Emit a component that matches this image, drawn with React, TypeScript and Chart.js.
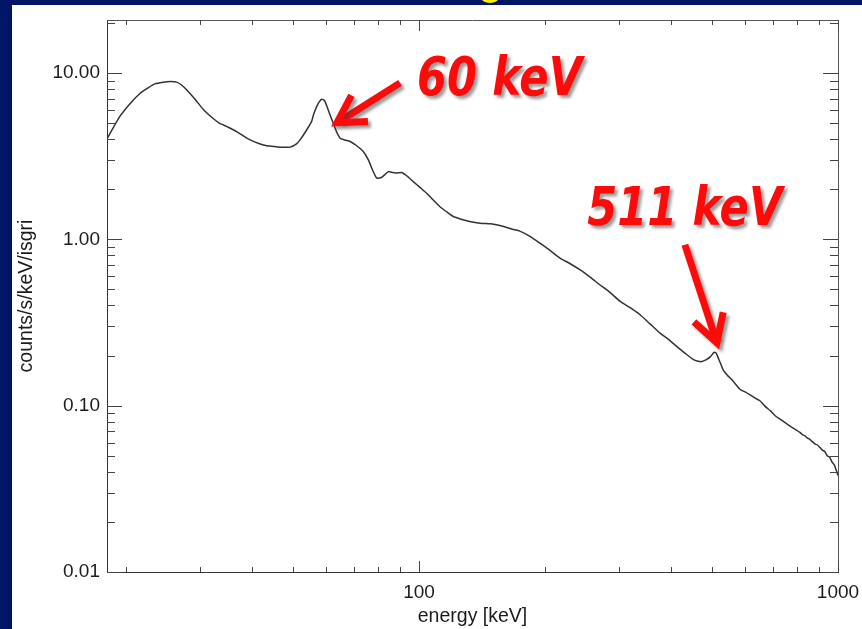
import React, { useEffect, useRef } from "react";
import { Chart, registerables } from "chart.js";

Chart.register(...registerables);

// ---- data ----
const energyKeV = [
  18, 19.3, 20.5, 21.6, 22.5, 23.4, 24.5, 25.5, 26.4, 27.2, 27.9, 29.2, 30.6, 31.9, 33.2, 35, 36.7,
  38.8, 40.5, 42.5, 44.5, 46.6, 49.2, 51, 52, 53.5, 55.4, 56, 57.2, 58.6, 59.5, 60.3, 61.3, 62.4,
  63.5, 64.8, 66.5, 68.5, 71, 73.6, 75.7, 77.5, 79.3, 81.5, 84.5, 86.5, 88.4, 91, 94, 96.9, 100.5,
  104.3, 108, 112.2, 116.5, 120.7, 126, 132, 140, 148, 154, 160, 167, 174, 184, 194, 205, 217, 229,
  242, 256, 270, 286, 302, 319, 337, 356, 376, 394, 412, 431, 452, 463, 473, 485, 496, 506, 512,
  518, 525, 532, 545, 558, 572, 584, 600, 617, 634, 651, 670, 690, 708, 727, 748, 770, 790, 811,
  822, 833, 844, 855, 867, 880, 893, 906, 918, 930, 942, 955, 967, 980, 990, 1000,
];

const countsRate = [
  4.01, 5.46, 6.6, 7.55, 8.1, 8.59, 8.8, 8.87, 8.8, 8.4, 7.9, 6.95, 6.0, 5.45, 5.03, 4.72, 4.44,
  4.05, 3.85, 3.69, 3.62, 3.58, 3.58, 3.75, 3.96, 4.4, 5.1, 5.6, 6.4, 6.95, 6.8, 6.28, 5.6, 4.99,
  4.45, 4.05, 3.95, 3.87, 3.65, 3.37, 3.0, 2.6, 2.33, 2.36, 2.55, 2.52, 2.5, 2.52, 2.38, 2.22, 2.05,
  1.89, 1.73, 1.57, 1.46, 1.37, 1.32, 1.28, 1.25, 1.24, 1.22, 1.19, 1.15, 1.12, 1.04, 0.95, 0.86,
  0.771, 0.715, 0.656, 0.592, 0.533, 0.478, 0.423, 0.388, 0.352, 0.31, 0.273, 0.25, 0.227, 0.207,
  0.189, 0.185, 0.184, 0.189, 0.197, 0.209, 0.207, 0.193, 0.178, 0.164, 0.152, 0.143, 0.133, 0.125,
  0.121, 0.116, 0.111, 0.107, 0.099, 0.093, 0.087, 0.083, 0.079, 0.075, 0.072, 0.069,
  0.067, 0.066, 0.064, 0.063, 0.061, 0.059, 0.058, 0.056, 0.054, 0.053, 0.050, 0.049, 0.046, 0.044,
  0.041, 0.038,
];

const xTickValues = [100, 1000];
const yTickValues = [0.01, 0.1, 1, 10];
const xTitle = "energy [keV]";
const yTitle = "counts/s/keV/isgri";

// annotation anchors in data units (energy, rate)
const peakLabels = ["60 keV", "511 keV"];
const labelAt = [
  [98.9, 7.38],
  [252, 1.22],
];
const arrowFrom = [
  [90.1, 8.71],
  [431, 0.927],
];
const arrowTo = [
  [63.7, 5.01],
  [514, 0.239],
];

const NAVY = "#011466";
const AXIS = "#333333";
const TEXT = "#1c1c1c";

const frameTicks = {
  id: "frameTicks",
  afterDatasetsDraw(chart: any) {
    const { ctx, chartArea: a, scales } = chart;
    const xs = scales.x;
    const ys = scales.y;
    ctx.save();
    ctx.lineWidth = 1;
    ctx.strokeStyle = "#555555";
    ctx.beginPath();
    ctx.moveTo(Math.round(a.left), Math.round(a.top) + 0.5);
    ctx.lineTo(Math.round(a.right), Math.round(a.top) + 0.5);
    ctx.moveTo(Math.round(a.right) + 0.5, Math.round(a.top));
    ctx.lineTo(Math.round(a.right) + 0.5, Math.round(a.bottom));
    ctx.stroke();
    ctx.strokeStyle = "#444444";
    ctx.beginPath();
    for (let d = -3; d <= 2; d++) {
      for (let m = 1; m <= 9; m++) {
        const v = m * Math.pow(10, d);
        if (v < ys.min * 0.999 || v > ys.max * 1.001) continue;
        const py = Math.round(ys.getPixelForValue(v)) + 0.5;
        const len = m === 1 ? 15 : 8;
        ctx.moveTo(a.left, py);
        ctx.lineTo(a.left + len, py);
        ctx.moveTo(a.right, py);
        ctx.lineTo(a.right - len, py);
      }
    }
    for (let d = 1; d <= 3; d++) {
      for (let m = 1; m <= 9; m++) {
        const v = m * Math.pow(10, d);
        if (v < xs.min * 0.999 || v > xs.max * 1.001) continue;
        const px = Math.round(xs.getPixelForValue(v)) + 0.5;
        const len = m === 1 ? 11 : 5;
        ctx.moveTo(px, a.bottom);
        ctx.lineTo(px, a.bottom - len);
        ctx.moveTo(px, a.top);
        ctx.lineTo(px, a.top + len);
      }
    }
    ctx.stroke();
    ctx.restore();
  },
};

const peakAnnotations = {
  id: "peakAnnotations",
  afterDraw(chart: any) {
    const { ctx, scales } = chart;
    const xs = scales.x;
    const ys = scales.y;
    ctx.save();
    ctx.shadowColor = "rgba(60,60,60,0.5)";
    ctx.shadowBlur = 3;
    ctx.shadowOffsetX = 3;
    ctx.shadowOffsetY = 3;
    ctx.fillStyle = "#ff0a0a";
    ctx.strokeStyle = "#ff0a0a";
    for (let i = 0; i < peakLabels.length; i++) {
      const tx = xs.getPixelForValue(labelAt[i][0]);
      const ty = ys.getPixelForValue(labelAt[i][1]);
      ctx.save();
      ctx.translate(tx, ty);
      ctx.scale(0.8, 1);
      ctx.font = "italic bold 54px 'DejaVu Sans', sans-serif";
      ctx.textBaseline = "alphabetic";
      ctx.textAlign = "left";
      ctx.fillText(peakLabels[i], 0, 0);
      ctx.restore();

      const x1 = xs.getPixelForValue(arrowFrom[i][0]);
      const y1 = ys.getPixelForValue(arrowFrom[i][1]);
      const x2 = xs.getPixelForValue(arrowTo[i][0]);
      const y2 = ys.getPixelForValue(arrowTo[i][1]);
      const ang = Math.atan2(y2 - y1, x2 - x1);
      const head = 31;
      const spread = 0.52;
      ctx.lineWidth = 7;
      ctx.lineCap = "butt";
      ctx.lineJoin = "miter";
      ctx.beginPath();
      ctx.moveTo(x1, y1);
      ctx.lineTo(x2 - 3 * Math.cos(ang), y2 - 3 * Math.sin(ang));
      ctx.stroke();
      ctx.beginPath();
      ctx.moveTo(x2 - head * Math.cos(ang - spread), y2 - head * Math.sin(ang - spread));
      ctx.lineTo(x2, y2);
      ctx.lineTo(x2 - head * Math.cos(ang + spread), y2 - head * Math.sin(ang + spread));
      ctx.stroke();
    }
    ctx.restore();
  },
};

export default function App() {
  const canvasRef = useRef<HTMLCanvasElement | null>(null);

  useEffect(() => {
    const canvas = canvasRef.current;
    if (!canvas) return;
    const tickFont = { family: "'Liberation Sans', Arial, sans-serif", size: 19 };
    const titleFont = { family: "'Liberation Sans', Arial, sans-serif", size: 19.5 };
    const chart = new Chart(canvas, {
      type: "line",
      data: {
        datasets: [
          {
            data: energyKeV.map((e, i) => ({ x: e, y: countsRate[i] })),
            borderColor: "#333333",
            borderWidth: 1.5,
            pointRadius: 0,
            fill: false,
            tension: 0.2,
          },
        ],
      },
      options: {
        animation: false,
        responsive: false,
        maintainAspectRatio: false,
        layout: { padding: { left: 0, top: 20, right: 24, bottom: 0 } },
        plugins: { legend: { display: false }, tooltip: { enabled: false } },
        scales: {
          x: {
            type: "logarithmic",
            min: 18,
            max: 1000,
            bounds: "data",
            afterBuildTicks: (s: any) => {
              s.ticks = xTickValues.map((v) => ({ value: v, major: true }));
            },
            afterFit: (s: any) => {
              s.height = 57;
              s.paddingLeft = 0;
              s.paddingRight = 0;
            },
            grid: { display: false, drawTicks: false },
            border: { display: true, color: AXIS, width: 1 },
            ticks: {
              autoSkip: false,
              maxRotation: 0,
              padding: 9,
              color: TEXT,
              font: tickFont,
              callback: (v: any) => String(v),
            },
            title: {
              display: true,
              text: xTitle,
              color: TEXT,
              font: titleFont,
              padding: { top: 0, bottom: 1 },
            },
          },
          y: {
            type: "logarithmic",
            min: 0.01,
            max: 20.8,
            bounds: "data",
            afterBuildTicks: (s: any) => {
              s.ticks = yTickValues.map((v) => ({ value: v, major: true }));
            },
            afterFit: (s: any) => {
              s.width = 107;
              s.paddingTop = 0;
              s.paddingBottom = 0;
            },
            grid: { display: false, drawTicks: false },
            border: { display: true, color: AXIS, width: 1 },
            ticks: {
              autoSkip: false,
              padding: 7,
              color: TEXT,
              font: tickFont,
              callback: (v: any) => Number(v).toFixed(2),
            },
            title: {
              display: true,
              text: yTitle,
              color: TEXT,
              font: titleFont,
              padding: { top: 15, bottom: 0 },
            },
          },
        },
      },
      plugins: [frameTicks, peakAnnotations],
    } as any);
    return () => chart.destroy();
  }, []);

  return (
    <div
      style={{
        position: "fixed",
        left: 0,
        top: 0,
        width: 862,
        height: 629,
        background: NAVY,
        overflow: "hidden",
      }}
    >
      <div
        style={{
          position: "absolute",
          left: 481,
          top: -9,
          width: 18,
          height: 12,
          borderRadius: "50%",
          background: "#ffee00",
        }}
      />
      <div
        style={{
          position: "absolute",
          left: 12,
          top: 5,
          width: 850,
          height: 624,
          background: "#ffffff",
        }}
      />
      <canvas
        ref={canvasRef}
        width={862}
        height={629}
        style={{ position: "absolute", left: 0, top: 0, width: 862, height: 629 }}
      />
    </div>
  );
}
